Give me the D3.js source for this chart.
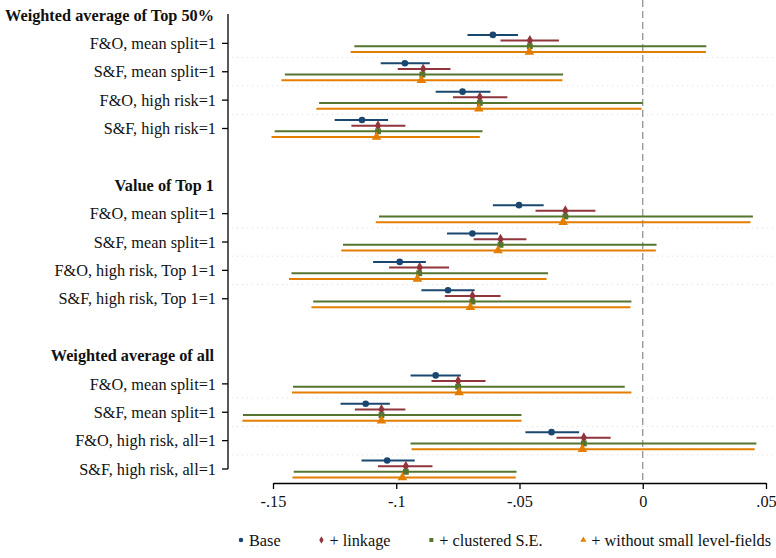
<!DOCTYPE html>
<html>
<head>
<meta charset="utf-8">
<script src="https://cdn.jsdelivr.net/npm/d3@7/dist/d3.min.js"></script>
<style>
  html, body { margin: 0; padding: 0; background: #fff; }
  svg { display: block; font-family: "Liberation Serif", "Times New Roman", serif; }
</style>
</head>
<body>
<svg id="chart" width="776" height="558"></svg>
<script>
// Row layout: group headers, coefficient rows and blank spacers
const rows = [
  { key: "h1", label: "Weighted average of Top 50%", header: true },
  { key: "a1", label: "F&O, mean split=1" },
  { key: "a2", label: "S&F, mean split=1" },
  { key: "a3", label: "F&O, high risk=1" },
  { key: "a4", label: "S&F, high risk=1" },
  { key: "s1", label: "", spacer: true },
  { key: "h2", label: "Value of Top 1", header: true },
  { key: "b1", label: "F&O, mean split=1" },
  { key: "b2", label: "S&F, mean split=1" },
  { key: "b3", label: "F&O, high risk, Top 1=1" },
  { key: "b4", label: "S&F, high risk, Top 1=1" },
  { key: "s2", label: "", spacer: true },
  { key: "h3", label: "Weighted average of all", header: true },
  { key: "c1", label: "F&O, mean split=1" },
  { key: "c2", label: "S&F, mean split=1" },
  { key: "c3", label: "F&O, high risk, all=1" },
  { key: "c4", label: "S&F, high risk, all=1" }
];
const coefRows = ["a1","a2","a3","a4","b1","b2","b3","b4","c1","c2","c3","c4"];

const seriesNames = ["Base", "+ linkage", "+ clustered S.E.", "+ without small level-fields"];
const seriesColors = ["#1a476f", "#90353b", "#55752f", "#e37e00"];
const seriesSymbols = [d3.symbolCircle, d3.symbolDiamond, d3.symbolSquare, d3.symbolTriangle];

// Point estimates and 95% bounds per series, in coefRows order
const baseEst    = [-0.0608, -0.0965, -0.0731, -0.1139, -0.0502, -0.0691, -0.0986, -0.0790, -0.0840, -0.1124, -0.0370, -0.1037];
const baseLo     = [-0.0711, -0.1063, -0.0840, -0.1250, -0.0608, -0.0794, -0.1094, -0.0898, -0.0942, -0.1226, -0.0476, -0.1141];
const baseHi     = [-0.0506, -0.0864, -0.0618, -0.1033, -0.0402, -0.0587, -0.0880, -0.0682, -0.0738, -0.1026, -0.0258, -0.0925];

const linkEst    = [-0.0458, -0.0891, -0.0661, -0.1074, -0.0314, -0.0577, -0.0905, -0.0691, -0.0749, -0.1060, -0.0239, -0.0961];
const linkLo     = [-0.0577, -0.0994, -0.0770, -0.1182, -0.0435, -0.0686, -0.1029, -0.0803, -0.0857, -0.1168, -0.0350, -0.1074];
const linkHi     = [-0.0340, -0.0780, -0.0549, -0.0963, -0.0192, -0.0472, -0.0786, -0.0577, -0.0638, -0.0963, -0.0130, -0.0853];

const clusEst    = [-0.0458, -0.0894, -0.0661, -0.1074, -0.0314, -0.0577, -0.0907, -0.0691, -0.0749, -0.1060, -0.0239, -0.0961];
const clusLo     = [-0.1170, -0.1452, -0.1313, -0.1493, -0.1070, -0.1216, -0.1425, -0.1337, -0.1419, -0.1622, -0.0942, -0.1416];
const clusHi     = [ 0.0258, -0.0323,  0.0000, -0.0650,  0.0447,  0.0056, -0.0384, -0.0046, -0.0073, -0.0492,  0.0461, -0.0512];

const smallEst   = [-0.0460, -0.0898, -0.0665, -0.1080, -0.0323, -0.0587, -0.0914, -0.0699, -0.0745, -0.1060, -0.0245, -0.0975];
const smallLo    = [-0.1185, -0.1466, -0.1324, -0.1506, -0.1083, -0.1223, -0.1435, -0.1344, -0.1423, -0.1624, -0.0938, -0.1421];
const smallHi    = [ 0.0256, -0.0326, -0.0005, -0.0661,  0.0437,  0.0053, -0.0390, -0.0050, -0.0046, -0.0492,  0.0454, -0.0515];

const xTicks = [-0.15, -0.1, -0.05, 0, 0.05];
const xTickLabels = ["-.15", "-.1", "-.05", "0", ".05"];

const estimates = [baseEst, linkEst, clusEst, smallEst];
const lows = [baseLo, linkLo, clusLo, smallLo];
const highs = [baseHi, linkHi, clusHi, smallHi];

const svg = d3.select("#chart");

const x = d3.scaleLinear().domain([-0.15, 0.05]).range([273, 766]);
const y = d3.scalePoint().domain(rows.map(r => r.key)).range([15, 469]);
const off = d3.scalePoint().domain(seriesNames).range([-8.5, 8.5]);

const axisX0 = 228;   // left axis line position
const axisY = 483;    // bottom axis line position
const fontSize = 16.3;

// faint dotted guides between neighbouring coefficient rows
const guideG = svg.append("g");
const step = y.step();
coefRows.forEach((k, i) => {
  const next = coefRows[i + 1];
  if (next && rows.findIndex(r => r.key === next) === rows.findIndex(r => r.key === k) + 1) {
    guideG.append("line")
      .attr("x1", axisX0 + 4).attr("x2", 776)
      .attr("y1", y(k) + step / 2).attr("y2", y(k) + step / 2)
      .attr("stroke", "#dcdcdc").attr("stroke-width", 1)
      .attr("stroke-dasharray", "1,4");
  }
});

// reference line at zero
svg.append("line")
  .attr("x1", x(0)).attr("x2", x(0))
  .attr("y1", 0).attr("y2", axisY)
  .attr("stroke", "#8a8a8a").attr("stroke-width", 1.2)
  .attr("stroke-dasharray", "7,4");

// confidence intervals and point estimates
seriesNames.forEach((name, s) => {
  const g = svg.append("g");
  const data = coefRows.map((k, i) => ({ k, est: estimates[s][i], lo: lows[s][i], hi: highs[s][i] }));
  g.selectAll("line").data(data).join("line")
    .attr("x1", d => x(d.lo)).attr("x2", d => x(d.hi))
    .attr("y1", d => y(d.k) + off(name)).attr("y2", d => y(d.k) + off(name))
    .attr("stroke", seriesColors[s]).attr("stroke-width", 2);
  g.selectAll("path").data(data).join("path")
    .attr("transform", d => `translate(${x(d.est)},${y(d.k) + off(name)})`)
    .attr("d", d3.symbol().type(seriesSymbols[s]).size(s === 3 ? 40 : 34))
    .attr("fill", seriesColors[s]);
});

// left axis
svg.append("line")
  .attr("x1", axisX0).attr("x2", axisX0)
  .attr("y1", 14).attr("y2", y("c4"))
  .attr("stroke", "#000").attr("stroke-width", 1.3);

const yLab = svg.append("g");
rows.forEach(r => {
  if (r.spacer) return;
  if (!r.header) {
    yLab.append("line")
      .attr("x1", axisX0 - 6).attr("x2", axisX0)
      .attr("y1", y(r.key)).attr("y2", y(r.key))
      .attr("stroke", "#000").attr("stroke-width", 1.3);
  }
  yLab.append("text")
    .attr("x", r.header ? 214 : 216)
    .attr("y", y(r.key))
    .attr("dy", "0.35em")
    .attr("text-anchor", "end")
    .attr("font-size", fontSize)
    .attr("font-weight", r.header ? "bold" : "normal")
    .attr("fill", "#111")
    .text(r.label);
});

// bottom axis
const xAxis = d3.axisBottom(x)
  .tickValues(xTicks)
  .tickFormat((d, i) => xTickLabels[i])
  .tickSize(6).tickSizeOuter(0).tickPadding(6);
const gx = svg.append("g").attr("transform", `translate(0,${axisY})`).call(xAxis);
gx.select(".domain").attr("stroke", "#000").attr("stroke-width", 1.3);
gx.selectAll(".tick line").attr("stroke", "#000").attr("stroke-width", 1.3);
gx.selectAll(".tick text")
  .attr("font-family", "Liberation Serif, serif")
  .attr("font-size", fontSize).attr("fill", "#111");

// legend: one row, keys spread evenly across the span below the plot
const legendLeft = 238, legendRight = 771, legendY = 540, keyGap = 11;
const legend = svg.append("g");
const items = seriesNames.map((name, s) => {
  const it = legend.append("g");
  it.append("path")
    .attr("transform", `translate(3,${legendY})`)
    .attr("d", d3.symbol().type(seriesSymbols[s]).size(16))
    .attr("fill", seriesColors[s]);
  const t = it.append("text")
    .attr("x", keyGap).attr("y", legendY).attr("dy", "0.35em")
    .attr("font-size", fontSize).attr("fill", "#111")
    .text(name);
  return { it, w: keyGap + t.node().getComputedTextLength() };
});
const totalW = d3.sum(items, d => d.w);
const colGap = (legendRight - legendLeft - totalW) / (items.length - 1);
let cursor = legendLeft;
items.forEach(d => {
  d.it.attr("transform", `translate(${cursor},0)`);
  cursor += d.w + colGap;
});
</script>
</body>
</html>
